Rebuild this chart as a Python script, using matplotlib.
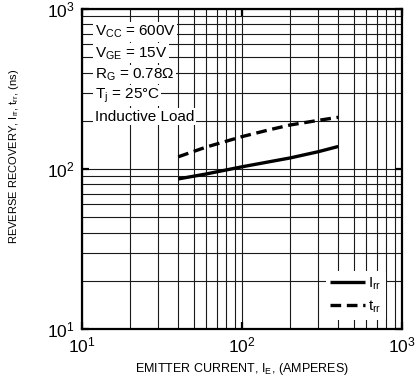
import matplotlib
matplotlib.use("Agg")
import matplotlib.pyplot as plt
from matplotlib.ticker import LogLocator, NullFormatter
import numpy as np

plt.rcParams['font.family'] = ['Liberation Sans', 'DejaVu Sans']
plt.rcParams['mathtext.fontset'] = 'custom'
plt.rcParams['mathtext.rm'] = 'Liberation Sans'
plt.rcParams['mathtext.it'] = 'Liberation Sans'

# Emitter current (A) and recovery values (ns)
current = [40, 60, 100, 150, 200, 300, 400]
irr = [86.5, 93, 103, 111, 117, 128, 138]
trr = [119, 137, 159, 176, 188, 201, 210]

conditions = ["$\\mathregular{V_{CC}}$ = 600V",
              "$\\mathregular{V_{GE}}$ = 15V",
              "$\\mathregular{R_G}$ = 0.78\u03a9",
              "$\\mathregular{T_j}$ = 25\u00b0C",
              "Inductive Load"]

fig = plt.figure(figsize=(4.16, 3.86), dpi=100)
ax = fig.add_axes([0.197, 0.148, 0.769, 0.829])

ax.plot(current, irr, color='black', lw=2.4, solid_capstyle='butt',
        label="$\\mathregular{I_{rr}}$")
ax.plot(current, trr, color='black', lw=2.4, dashes=(3.2, 1.7),
        label="$\\mathregular{t_{rr}}$")

ax.set_xscale('log')
ax.set_yscale('log')
ax.set_xlim(10, 1000)
ax.set_ylim(10, 1000)

for axis in (ax.xaxis, ax.yaxis):
    axis.set_major_locator(LogLocator(base=10, numticks=10))
    axis.set_minor_locator(LogLocator(base=10, subs=np.arange(2, 10), numticks=20))
    axis.set_minor_formatter(NullFormatter())

ax.grid(True, which='both', color='#1a1a1a', lw=0.8)
ax.set_axisbelow(True)
ax.tick_params(which='major', direction='in', length=5, width=1.6,
               top=True, right=True, labelsize=12.5, pad=5)
ax.tick_params(which='minor', length=0)
for s in ax.spines.values():
    s.set_linewidth(1.6)

for i, txt in enumerate(conditions):
    ax.text(0.04, 0.927 - i * 0.066, txt, transform=ax.transAxes, fontsize=11,
            va='center', ha='left',
            bbox=dict(facecolor='white', edgecolor='none', pad=1.2))

leg = ax.legend(loc='lower right', bbox_to_anchor=(0.975, 0.005), fontsize=11,
                frameon=True, handlelength=2.3, handletextpad=0.2,
                borderpad=0.3, labelspacing=0.45)
leg.get_frame().set_edgecolor('none')
leg.get_frame().set_facecolor('white')
leg.get_frame().set_alpha(1)

ax.set_xlabel("EMITTER CURRENT, $\\mathregular{I_E}$, (AMPERES)", fontsize=9, labelpad=4)
ax.set_ylabel("REVERSE RECOVERY, $\\mathregular{I_{rr}}$, $\\mathregular{t_{rr}}$, (ns)",
              fontsize=8)
ax.yaxis.set_label_coords(-0.19, 0.54)

fig.savefig("out.png", dpi=100)
